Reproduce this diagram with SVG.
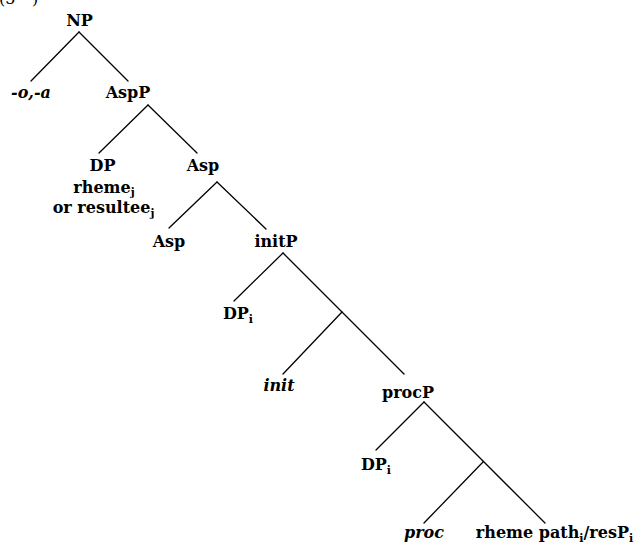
<svg xmlns="http://www.w3.org/2000/svg" width="637" height="545" viewBox="0 0 637 545">
<style>
text{font-family:"DejaVu Serif","Liberation Serif",serif;font-weight:bold;font-size:16px;fill:#000;text-anchor:middle}
.it{font-style:italic}
.sub{font-size:11px}
.num{text-anchor:start;font-weight:normal;font-size:16px}
#edges line{stroke:#000;stroke-width:1.3;stroke-linecap:round}
</style>
<rect width="637" height="545" fill="#fff"/>
<text class="num" x="-1" y="4">(5<tspan x="32">)</tspan></text>
<g id="edges">
<line x1="79" y1="32" x2="31" y2="81"/>
<line x1="79" y1="32" x2="128" y2="81"/>
<line x1="148" y1="105" x2="99" y2="153"/>
<line x1="148" y1="105" x2="197" y2="153"/>
<line x1="217" y1="182" x2="169" y2="228"/>
<line x1="217" y1="182" x2="266" y2="229"/>
<line x1="283" y1="253" x2="234" y2="301"/>
<line x1="283" y1="253" x2="404" y2="374"/>
<line x1="342" y1="312" x2="283" y2="374"/>
<line x1="424" y1="402" x2="376" y2="450"/>
<line x1="424" y1="402" x2="545" y2="523"/>
<line x1="483.5" y1="461.5" x2="424" y2="523"/>
</g>
<g id="n-NP"><text x="79.5" y="26">NP</text></g>
<g id="n-oa"><text class="it" x="31" y="98">-o,-a</text></g>
<g id="n-AspP"><text x="128" y="98">AspP</text></g>
<g id="n-DP1"><text x="102.5" y="171">DP</text>
<text x="104" y="193">rheme<tspan class="sub" dy="2.5">j</tspan></text>
<text x="103.5" y="213">or resultee<tspan class="sub" dy="3.5">j</tspan></text></g>
<g id="n-Asp1"><text x="203" y="171">Asp</text></g>
<g id="n-Asp2"><text x="169" y="246.7">Asp</text></g>
<g id="n-initP"><text x="276" y="246.7">initP</text></g>
<g id="n-DPi1"><text x="238" y="319">DP<tspan class="sub" dy="4">i</tspan></text></g>
<g id="n-init"><text class="it" x="279" y="391">init</text></g>
<g id="n-procP"><text x="408" y="398">procP</text></g>
<g id="n-DPi2"><text x="376" y="470">DP<tspan class="sub" dy="4">i</tspan></text></g>
<g id="n-proc"><text class="it" x="424" y="538">proc</text></g>
<g id="n-rheme"><text x="554.5" y="538">rheme path<tspan class="sub" dy="4">i</tspan><tspan dy="-4">/resP</tspan><tspan class="sub" dy="4">i</tspan></text></g>
</svg>
